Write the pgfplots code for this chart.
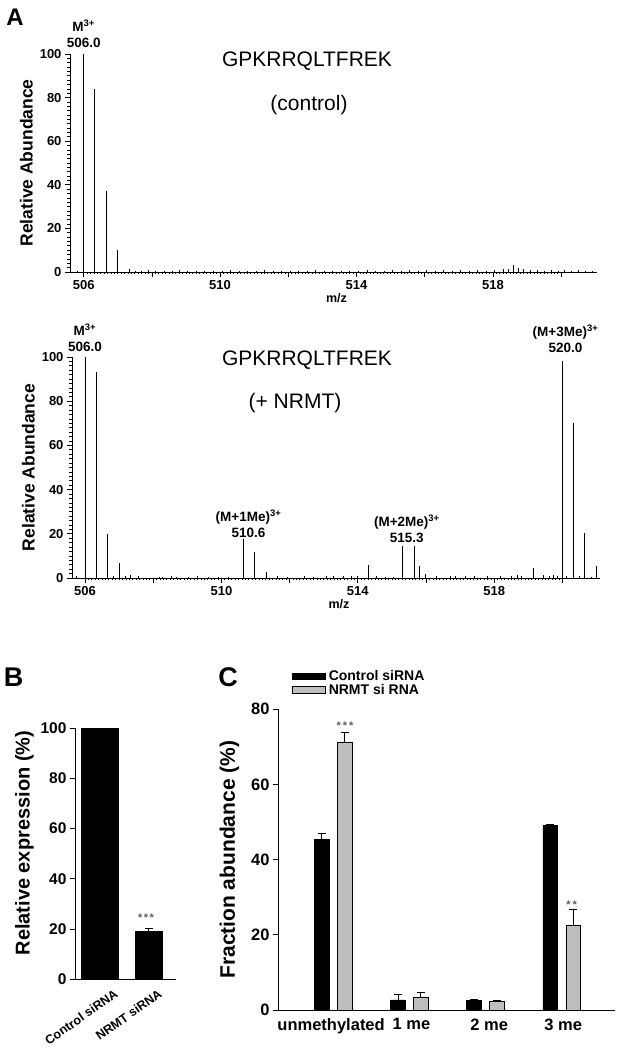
\documentclass[border=0pt]{standalone}
\usepackage{fontspec}
\setmainfont{Liberation Sans}
\usepackage{pgfplots}
\pgfplotsset{compat=1.18}

\newcommand{\fsz}[2]{\fontsize{#1}{#2}\selectfont\bfseries}
\definecolor{barGray}{RGB}{190,190,190}
\definecolor{starGray}{RGB}{90,90,90}

\pgfplotsset{
  panel/.style={
    scale only axis, anchor=south west, clip=false,
    axis x line*=bottom, axis y line*=left,
    axis line style={-, line width=0.8pt},
    tick align=outside,
    tick style={black, line width=0.7pt},
    major tick length=5pt, minor tick length=2.5pt,
    /pgf/number format/assume math mode=true,
    /pgf/number format/1000 sep={},
  },
  spectrum/.style={panel,
    xmin=505.6, xmax=521.05, ymin=0, ymax=100,
    xtick={506,508,...,520}, xticklabels={506,,510,,514,,518,},
    minor x tick num=19,
    ytick={0,20,...,100}, minor y tick num=9,
    ticklabel style={font=\fsz{13}{15}},
    xlabel={m/z}, xlabel style={font=\fsz{12.5}{14}, xshift=3pt, yshift=3pt},
    ylabel={Relative Abundance}, ylabel style={font=\fsz{17.5}{20}},
  },
  boxlegend/.style={legend image code/.code={\draw[##1] (0pt,-3.3pt) rectangle (33pt,3.3pt);}},
  caperr/.style={error bars/.cd, y dir=plus, y explicit,
    error bar style={black, line width=0.8pt},
    error mark options={rotate=90, black, mark size=4pt, line width=0.8pt}},
}
\tikzset{
  peaklabel/.style={anchor=south, align=center, inner sep=0pt, font=\fsz{13.5}{16}},
  stars/.style={font=\fsz{11}{13}, text=starGray, yshift=-2.4pt},
}

\begin{document}
\begin{tikzpicture}
\useasboundingbox (0pt,0pt) rectangle (626pt,1050pt);

% ---- A: control spectrum
\begin{axis}[spectrum, at={(70pt,778pt)}, width=527pt, height=218pt]
  \addplot[ycomb, black, line width=0.9pt] coordinates {
    (506.0,100) (506.33,84) (506.67,37) (507.0,10) (507.33,1.5)};
  \addplot[ycomb, black, line width=0.5pt] coordinates {
    (505.8,0.5) (507.5,0.6) (507.7,0.4) (507.9,0.7) (508.1,0.5) (508.35,0.6)
    (508.6,0.4) (508.8,0.7) (509.05,0.5) (509.3,0.6) (509.55,0.4) (509.8,0.6)
    (510.05,0.5) (510.3,0.7) (510.55,0.4) (510.8,0.6) (511.05,0.5) (511.3,0.7)
    (511.55,0.4) (511.8,0.6) (512.05,0.5) (512.3,0.6) (512.55,0.4) (512.8,0.7)
    (513.05,0.5) (513.3,0.6) (513.55,0.4) (513.8,0.6) (514.05,0.5) (514.3,0.7)
    (514.55,0.5) (514.8,0.6) (515.05,0.8) (515.3,0.5) (515.55,0.7) (515.8,0.6)
    (516.05,0.8) (516.3,0.5) (516.55,0.7) (516.8,0.6) (517.05,0.8) (517.3,0.6)
    (517.55,0.9) (517.8,0.6) (518.05,0.8) (518.3,1.5) (518.45,1.2) (518.58,3.2)
    (518.75,2.0) (518.9,1.4) (519.1,0.8) (519.3,0.9) (519.5,0.6) (519.7,0.8)
    (519.9,0.5) (520.1,0.7) (520.3,0.5) (520.5,0.7) (520.7,0.5) (520.9,0.6)};
  \node[peaklabel, yshift=6pt] at (axis cs:506.0,100) {M\textsuperscript{3+}\\506.0};
\end{axis}

% ---- A: + NRMT spectrum
\begin{axis}[spectrum, at={(72pt,472pt)}, width=528pt, height=221pt,
  xmin=505.62, xmax=521.1]
  \addplot[ycomb, black, line width=0.9pt] coordinates {
    (506.0,100) (506.33,93) (506.67,20) (507.0,7)
    (510.65,17.6) (510.98,11.6) (511.33,2.5)
    (514.31,5.7) (515.32,14.5) (515.66,14.5) (515.8,5.4) (515.97,2)
    (519.14,4.5) (520.0,98.3) (520.33,70) (520.65,20.4) (521.0,5.3)};
  \addplot[ycomb, black, line width=0.5pt] coordinates {
    (505.75,1.0) (506.83,1.0) (507.17,0.8) (507.32,1.5) (507.56,0.8)
    (508.18,0.6) (508.27,0.6) (508.54,0.8) (508.69,0.6) (509.02,0.6)
    (509.29,1.0) (509.6,0.5) (509.9,0.6) (510.2,0.4) (511.64,0.8)
    (511.93,0.5) (512.42,0.8) (512.7,0.5) (513.07,1.0) (513.28,0.8)
    (513.57,0.7) (513.82,0.8) (513.97,0.8) (514.53,1.0) (514.8,0.5)
    (515.05,0.5) (516.3,0.8) (516.7,1.0) (516.85,0.9) (517.15,0.8)
    (517.4,0.7) (517.78,0.8) (518.17,0.7) (518.5,0.8) (518.66,1.2)
    (518.8,1.0) (519.44,1.5) (519.6,1.0) (519.73,1.2) (519.85,0.8)
    (520.12,1.0) (520.5,0.8) (520.85,0.5)};
  \node[peaklabel, yshift=5pt] at (axis cs:506.0,100) {M\textsuperscript{3+}\\506.0};
  \node[peaklabel, yshift=1pt, xshift=5pt] at (axis cs:510.65,17.6) {(M+1Me)\textsuperscript{3+}\\510.6};
  \node[peaklabel, yshift=3pt, xshift=4pt] at (axis cs:515.32,14.5) {(M+2Me)\textsuperscript{3+}\\515.3};
  \node[peaklabel, yshift=8pt, xshift=3pt] at (axis cs:520.0,98.3) {(M+3Me)\textsuperscript{3+}\\520.0};
\end{axis}

% ---- B: relative expression
\begin{axis}[panel, at={(75pt,71pt)}, width=101pt, height=250.7pt,
  xmin=0.496, xmax=2.557, ymin=0, ymax=100, ytick={0,20,...,100},
  xtick={1.3,2.2}, xticklabels={Control siRNA, NRMT siRNA},
  xtick style={draw=none},
  xticklabel style={rotate=35, anchor=north east, font=\fsz{12.5}{14}},
  yticklabel style={font=\fsz{15.5}{18}},
  ylabel={Relative expression (\%)},
  ylabel style={font=\fsz{20}{24}, at={(ticklabel cs:0.542)}}]
  \addplot[ybar, bar width=0.735, bar shift=0pt, fill=black, draw=black]
    coordinates {(1,100)};
  \addplot[ybar, bar width=0.557, bar shift=0pt, fill=black, draw=black, caperr]
    coordinates {(2,19) +- (0,1.3)};
\end{axis}

% ---- C: fraction abundance
\begin{axis}[panel, at={(278pt,40pt)}, width=337pt, height=300.7pt,
  xmin=0.278, xmax=4.70, ymin=0, ymax=80, ytick={0,20,...,80},
  xtick={0.975,2.03,3.05,4.02}, xticklabels={unmethylated,1 me,2 me,3 me},
  xtick style={draw=none},
  ticklabel style={font=\fsz{16.5}{19}},
  ylabel={Fraction abundance (\%)}, ylabel style={font=\fsz{21}{25}},
  ylabel shift=5pt,
  legend style={at={(axis description cs:0.04,1.131)}, anchor=north west,
    draw=none, fill=none, font=\fsz{14}{17}, inner sep=0pt, row sep=1pt,
    nodes={inner xsep=3.5pt, inner ysep=0.5pt}},
  legend cell align=left]
  \addplot[ybar, bar width=0.19, bar shift=0pt, fill=black, draw=black,
    line width=0.6pt, boxlegend, caperr]
    coordinates {(0.851,45.4) +- (0,1.5) (1.853,2.7) +- (0,1.4)
                 (2.849,2.5) +- (0,0.2) (3.849,49.1) +- (0,0.2)};
  \addlegendentry{Control siRNA}
  \addplot[ybar, bar width=0.19, bar shift=0pt, fill=barGray, draw=black,
    line width=0.6pt, boxlegend, caperr]
    coordinates {(1.153,71.3) +- (0,2.5) (2.151,3.5) +- (0,1.3)
                 (3.151,2.2) +- (0,0.4) (4.151,22.6) +- (0,4.2)};
  \addlegendentry{NRMT si RNA}
\end{axis}

% ---- titles, panel letters, significance stars
\node[font=\fontsize{21}{25}\selectfont] at (307pt,989pt) {GPKRRQLTFREK};
\node[font=\fontsize{21}{25}\selectfont] at (309pt,945pt) {(control)};
\node[font=\fontsize{21}{25}\selectfont] at (307pt,690pt) {GPKRRQLTFREK};
\node[font=\fontsize{21}{25}\selectfont] at (295pt,647pt) {(+ NRMT)};
\node[font=\fsz{24}{28}] at (15pt,1033pt) {A};
\node[font=\fsz{27}{31}] at (13.5pt,373pt) {B};
\node[font=\fsz{27}{31}] at (228pt,373pt) {C};
\node[stars] at (146pt,135pt) {*\hspace{1.5pt}*\hspace{1.5pt}*};
\node[stars] at (345pt,327pt) {*\hspace{2pt}*\hspace{2pt}*};
\node[stars] at (571.7pt,148pt) {*\hspace{2pt}*};
\end{tikzpicture}
\end{document}
